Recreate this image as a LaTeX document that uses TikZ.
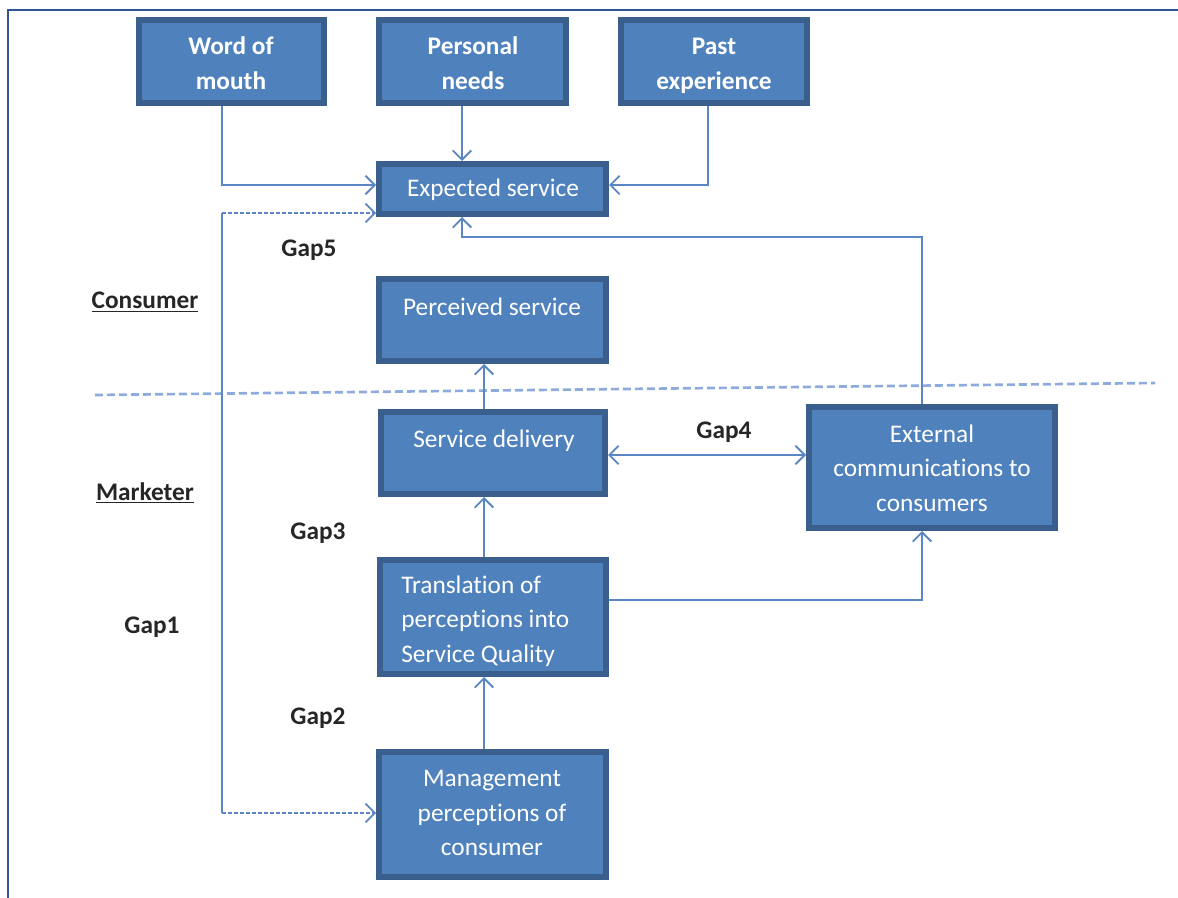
\documentclass[tikz,border=0pt]{standalone}
\usepackage{fontspec}
\setmainfont[Ligatures=NoCommon]{Carlito}
\usetikzlibrary{arrows.meta}
\definecolor{boxfill}{HTML}{4F81BD}
\definecolor{boxedge}{HTML}{3A5F8D}
\definecolor{wire}{HTML}{5A86C3}
\definecolor{sepline}{HTML}{8FAADC}
\definecolor{frameblue}{HTML}{2F5597}
\begin{document}
\begin{tikzpicture}[x=0.75pt,y=-0.75pt,
  blockbox/.style={draw=boxedge,fill=boxfill,line width=4.5pt,inner sep=0pt},
  boxtext/.style={text=white,font=\fontsize{19}{26}\selectfont,align=center,inner sep=0pt},
  sourcetext/.style={boxtext,font=\fontsize{19}{26}\bfseries\selectfont},
  gaplabel/.style={font=\fontsize{19}{23}\bfseries\selectfont,text=black!85,inner sep=0pt},
  sidelabel/.style={font=\fontsize{19}{23}\bfseries\selectfont,text=black!85,inner sep=0pt},
  flow/.style={draw=wire,line width=1.6pt,-{Straight Barb[length=7pt,width=14pt,line width=1.4pt]}},
  flowboth/.style={draw=wire,line width=1.6pt,{Straight Barb[length=7pt,width=14pt,line width=1.4pt]}-{Straight Barb[length=7pt,width=14pt,line width=1.4pt]}},
  gapflow/.style={draw=wire,line width=1.1pt,dash pattern=on 3pt off 1.5pt,-{Straight Barb[length=7pt,width=14pt,line width=1.3pt]}},
]
\useasboundingbox (0,0) rectangle (1178,898);

% outer frame
\draw[frameblue,line width=2pt] (8,898) -- (8,10) -- (1178,10);

% boxes: centre, then size in pixels less the border width
\node[blockbox,minimum width=185*0.75pt,minimum height=83*0.75pt] (wom) at (231.5,61.5) {};
\node[blockbox,minimum width=187*0.75pt,minimum height=83*0.75pt] (pn)  at (472.5,61.5) {};
\node[blockbox,minimum width=186*0.75pt,minimum height=83*0.75pt] (pe)  at (714,61.5) {};
\node[blockbox,minimum width=227*0.75pt,minimum height=50*0.75pt] (es)  at (492.5,189) {};
\node[blockbox,minimum width=227*0.75pt,minimum height=82*0.75pt] (ps)  at (492.5,320) {};
\node[blockbox,minimum width=224*0.75pt,minimum height=82*0.75pt] (sd)  at (493,453) {};
\node[blockbox,minimum width=246*0.75pt,minimum height=121*0.75pt] (ext) at (932,467.5) {};
\node[blockbox,minimum width=226*0.75pt,minimum height=114*0.75pt] (tr)  at (493,617) {};
\node[blockbox,minimum width=227*0.75pt,minimum height=125*0.75pt] (mg)  at (492.5,814.5) {};

% box texts
\node[sourcetext] at (231,63) {Word of\\mouth};
\node[sourcetext] at (473,63) {Personal\\needs};
\node[sourcetext] at (714,66) {Past\\experience};
\node[boxtext] at (493,190) {Expected service};
\node[boxtext] at (492,307) {Perceived service};
\node[boxtext] at (494,441) {Service delivery};
\node[boxtext] at (932,468) {External\\communications to\\consumers};
\node[boxtext,align=left,anchor=west] at (401,621) {Translation of\\perceptions into\\Service Quality};
\node[boxtext] at (492,813) {Management\\perceptions of\\consumer};

% side and gap labels
\node[sidelabel] at (145,302) {\underline{Consumer}};
\node[sidelabel] at (145,493) {\underline{Marketer}};
\node[gaplabel] at (309,250) {Gap5};
\node[gaplabel] at (724,432) {Gap4};
\node[gaplabel] at (318,533) {Gap3};
\node[gaplabel] at (152,627) {Gap1};
\node[gaplabel] at (318,718) {Gap2};

% consumer / marketer divide
\draw[sepline,line width=2pt,dash pattern=on 6pt off 3pt] (95,395) -- (1155,383);

% helper coordinates for wire columns and rows
\coordinate (colL) at (222,0);
\coordinate (colN) at (462,0);
\coordinate (colC) at (484,0);
\coordinate (colE) at (922,0);
\coordinate (colP) at (708,0);
\coordinate (rowIn) at (0,185);
\coordinate (rowGap) at (0,213);
\coordinate (rowFb) at (0,237);
\coordinate (rowMg) at (0,813);
\coordinate (rowTr) at (0,600);
\coordinate (rowSd) at (0,455);

% inputs to expected service
\draw[flow] (wom.south -| colL) -- (colL |- rowIn) -- (es.west |- rowIn);
\draw[flow] (pn.south -| colN) -- (es.north -| colN);
\draw[flow] (pe.south -| colP) -- (colP |- rowIn) -- (es.east |- rowIn);

% external communications feed back to expected service
\draw[flow] (ext.north -| colE) -- (colE |- rowFb) -- (colN |- rowFb) -- (es.south -| colN);

% gap 1 / gap 5 dashed link
\draw[gapflow] (colL |- rowMg) -- (colL |- rowGap) -- (es.west |- rowGap);
\draw[gapflow] (colL |- rowGap) -- (colL |- rowMg) -- (mg.west |- rowMg);

% delivery chain
\draw[flow] (sd.north -| colC) -- (ps.south -| colC);
\draw[flow] (tr.north -| colC) -- (sd.south -| colC);
\draw[flow] (mg.north -| colC) -- (tr.south -| colC);
\draw[flowboth] (sd.east |- rowSd) -- (ext.west |- rowSd);
\draw[flow] (tr.east |- rowTr) -- (colE |- rowTr) -- (ext.south -| colE);
\end{tikzpicture}
\end{document}
